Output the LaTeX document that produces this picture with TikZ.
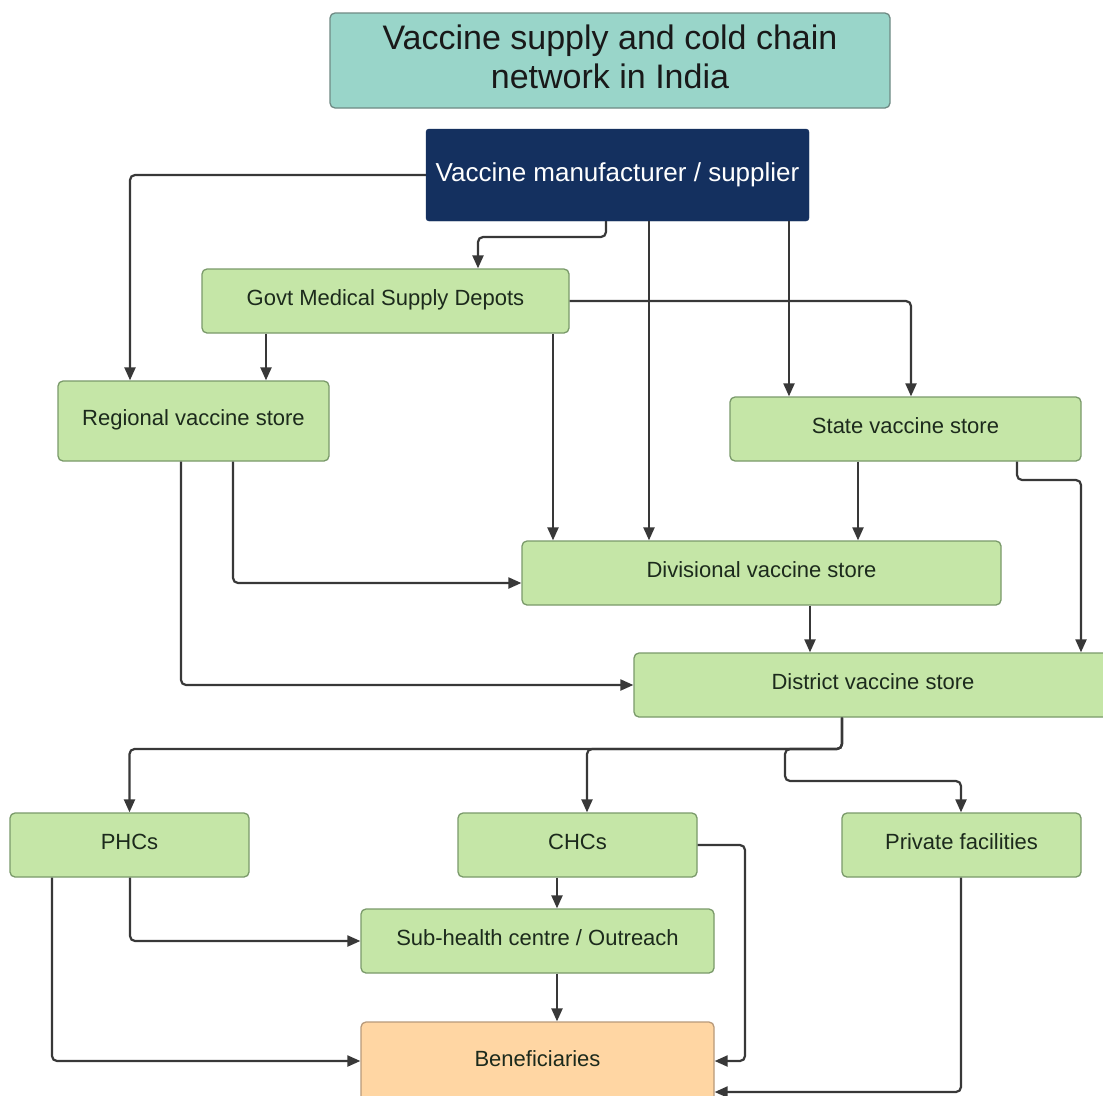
\documentclass[tikz,border=0pt]{standalone}
\usepackage{fontspec}
\setmainfont{Liberation Sans}
\usetikzlibrary{arrows.meta}
\definecolor{titlefill}{HTML}{99D5C9}
\definecolor{titleline}{HTML}{6F8A84}
\definecolor{navy}{HTML}{14305F}
\definecolor{greenfill}{HTML}{C5E6A7}
\definecolor{greenline}{HTML}{7A9A6A}
\definecolor{orangefill}{HTML}{FFD6A3}
\definecolor{orangeline}{HTML}{B89A7A}
\definecolor{arrowcol}{HTML}{383838}
\definecolor{txtcol}{HTML}{1C2A1C}
\tikzset{
  gbox/.style={draw=greenline, fill=greenfill, rounded corners=5pt, line width=1.3pt,
    inner sep=0pt, text=txtcol, font=\fontsize{22}{26}\selectfont,
    text height=16pt, text depth=8pt},
  arr/.style={draw=arrowcol, line width=2.2pt, rounded corners=5pt,
    -{Triangle[length=13pt,width=11pt]}},
}
\begin{document}
\begin{tikzpicture}[x=1pt,y=-1pt]
\useasboundingbox (0,0) rectangle (1103,1095);
\clip (0,0) rectangle (1103,1095);
\fill[white] (0,0) rectangle (1103,1095);

% helper coordinates
\foreach \xx in {52,130,181,233,266,478,553,557,587,606,649,745,785,789,810,842,858,911,961,1017,1081}
  {\coordinate (X\xx) at (\xx,0);}
\foreach \yy in {237,480,583,749,781,941,1061,1092}
  {\coordinate (Y\yy) at (0,\yy);}

% nodes
\node[draw=titleline, fill=titlefill, rounded corners=5pt, line width=1.3pt, inner sep=0pt,
      minimum width=560pt, minimum height=95pt, align=center, text=black!90,
      font=\fontsize{34}{40}\selectfont] (title) at (610,60.5)
      {\raisebox{10pt}{\begin{tabular}{c}Vaccine supply and cold chain\\[-1pt] network in India\end{tabular}}};
\node[draw=navy, fill=navy, rounded corners=3pt, inner sep=0pt, minimum width=383pt,
      minimum height=92pt, text=white, font=\fontsize{26}{30}\selectfont] (manu) at (617.5,175)
      {Vaccine manufacturer / supplier};
\node[gbox, minimum width=367pt, minimum height=64pt] (govt) at (385.5,301) {Govt Medical Supply Depots};
\node[gbox, minimum width=271pt, minimum height=80pt] (regional) at (193.5,421) {Regional vaccine store};
\node[gbox, minimum width=351pt, minimum height=64pt] (state) at (905.5,429) {State vaccine store};
\node[gbox, minimum width=479pt, minimum height=64pt] (div) at (761.5,573) {Divisional vaccine store};
\node[gbox, minimum width=478pt, minimum height=64pt] (district) at (873,685) {District vaccine store};
\node[gbox, minimum width=239pt, minimum height=64pt] (phcs) at (129.5,845) {PHCs};
\node[gbox, minimum width=239pt, minimum height=64pt] (chcs) at (577.5,845) {CHCs};
\node[gbox, minimum width=239pt, minimum height=64pt] (private) at (961.5,845) {Private facilities};
\node[gbox, minimum width=353pt, minimum height=64pt] (sub) at (537.5,941) {Sub-health centre / Outreach};
\node[gbox, draw=orangeline, fill=orangefill, minimum width=353pt, minimum height=108pt] (benef) at (537.5,1076)
      {\raisebox{14pt}{Beneficiaries}};

% connectors from manufacturer
\draw[arr] (manu.west) -| (regional.north -| X130);
\draw[arr] (manu.south -| X606) -- (X606 |- Y237) -- (X478 |- Y237) -- (govt.north -| X478);
\draw[arr] (manu.south -| X649) -- (div.north -| X649);
\draw[arr] (manu.south -| X789) -- (state.north -| X789);

% from govt depots
\draw[arr] (govt.east) -| (state.north -| X911);
\draw[arr] (govt.south -| X266) -- (regional.north -| X266);
\draw[arr] (govt.south -| X553) -- (div.north -| X553);

% from regional
\draw[arr] (regional.south -| X233) |- (div.west |- Y583);
\draw[arr] (regional.south -| X181) |- (district.west);

% from state
\draw[arr] (state.south -| X858) -- (div.north -| X858);
\draw[arr] (state.south -| X1017) -- (X1017 |- Y480) -- (X1081 |- Y480) -- (district.north -| X1081);

% divisional to district
\draw[arr] (div.south -| X810) -- (district.north -| X810);

% district to facilities
\draw[arr] (district.south -| X842) -- (X842 |- Y749) -| (phcs.north);
\draw[arr] (district.south -| X842) -- (X842 |- Y749) -- (X587 |- Y749) -- (chcs.north -| X587);
\draw[arr] (district.south -| X842) -- (X842 |- Y749) -- (X785 |- Y749) -- (X785 |- Y781) -| (private.north -| X961);

% facilities onwards
\draw[arr] (phcs.south -| X52) |- (benef.west |- Y1061);
\draw[arr] (phcs.south -| X130) |- (sub.west);
\draw[arr] (chcs.south -| X557) -- (sub.north -| X557);
\draw[arr] (chcs.east) -- (X745 |- chcs.east) -- (X745 |- Y1061) -- (benef.east |- Y1061);
\draw[arr] (sub.south -| X557) -- (benef.north -| X557);
\draw[arr] (private.south -| X961) |- (benef.east |- Y1092);
\end{tikzpicture}
\end{document}
